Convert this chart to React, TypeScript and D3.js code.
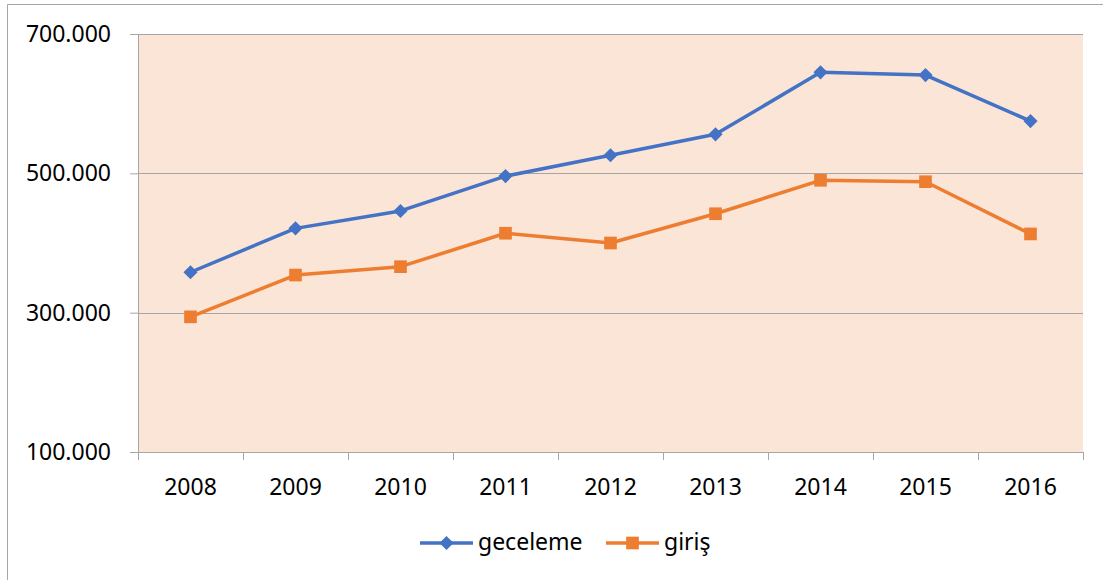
import React, { useEffect, useRef } from 'react';
import * as d3 from 'd3';

const years = ['2008', '2009', '2010', '2011', '2012', '2013', '2014', '2015', '2016'];
const geceleme = [358000, 421000, 446000, 496000, 526000, 556000, 645000, 641000, 575000];
const giris = [294000, 354000, 366000, 414000, 400000, 442000, 490000, 488000, 413000];
const yTicks = [100000, 300000, 500000, 700000];

const W = 1103;
const H = 580;
const FONT = '"Noto Sans", sans-serif';

const App = () => {
  const ref = useRef<SVGSVGElement>(null);

  useEffect(() => {
    const svg = d3.select(ref.current);
    svg.selectAll('*').remove();

    const margin = { left: 138, right: 20, top: 34, bottom: 128 };
    const width = W - margin.left - margin.right;
    const height = H - margin.top - margin.bottom;

    // outer chart border (only top/left visible in the crop)
    svg.append('path')
      .attr('d', `M7.5,${H} L7.5,4.5 L${W},4.5`)
      .attr('fill', 'none')
      .attr('stroke', '#a6a6a6');

    const g = svg.append('g').attr('transform', `translate(${margin.left}, ${margin.top})`);

    const x = d3.scaleBand().domain(years).range([0, width]);
    const y = d3.scaleLinear().domain([100000, 700000]).range([height, 0]);
    const fmt = (v: number) => d3.format(',')(v).replace(/,/g, '.');

    g.append('rect')
      .attr('width', width)
      .attr('height', height)
      .attr('fill', '#fbe5d6');

    // gridlines
    g.selectAll('.grid')
      .data(yTicks.slice(1))
      .enter().append('line')
      .attr('x1', 0).attr('x2', width)
      .attr('y1', d => Math.round(y(d)) + 0.5)
      .attr('y2', d => Math.round(y(d)) + 0.5)
      .attr('stroke', '#a6a6a6');

    // y axis
    const yAxis = g.append('g').call(d3.axisLeft(y).tickValues(yTicks).tickSize(8).tickPadding(6).tickFormat(d => fmt(+d)));
    yAxis.select('.domain').attr('stroke', '#a6a6a6');
    yAxis.selectAll('.tick line').attr('stroke', '#a6a6a6');
    yAxis.selectAll('text')
      .attr('font-family', FONT)
      .attr('font-size', 23)
      .attr('fill', '#000')
      .attr('x', -27);

    // x axis
    const xAxisG = g.append('g').attr('transform', `translate(0, ${height})`);
    xAxisG.append('line').attr('x1', 0).attr('x2', width).attr('y1', 0.5).attr('y2', 0.5).attr('stroke', '#a6a6a6');
    const bounds = years.map(d => x(d) as number).concat([width]);
    xAxisG.selectAll('.xt')
      .data(bounds)
      .enter().append('line')
      .attr('x1', d => Math.round(d) + 0.5).attr('x2', d => Math.round(d) + 0.5)
      .attr('y1', 0).attr('y2', 8)
      .attr('stroke', '#a6a6a6');
    xAxisG.selectAll('.xl')
      .data(years)
      .enter().append('text')
      .attr('x', d => (x(d) as number) + x.bandwidth() / 2)
      .attr('y', 35)
      .attr('dy', '0.35em')
      .attr('text-anchor', 'middle')
      .attr('font-family', FONT)
      .attr('font-size', 23)
      .text(d => d);

    const cx = (i: number) => (x(years[i]) as number) + x.bandwidth() / 2;
    const line = d3.line<number>().x((d, i) => cx(i)).y(d => y(d));

    const series = [
      { name: 'geceleme', data: geceleme, color: '#4472c4', size: 100, rot: 45 },
      { name: 'giriş', data: giris, color: '#ed7d31', size: 160, rot: 0 },
    ];

    series.forEach(s => {
      g.append('path')
        .datum(s.data)
        .attr('d', line)
        .attr('fill', 'none')
        .attr('stroke', s.color)
        .attr('stroke-width', 3.5)
        .attr('stroke-linejoin', 'round');
      g.selectAll(null)
        .data(s.data)
        .enter().append('path')
        .attr('d', d3.symbol().type(d3.symbolSquare).size(s.size))
        .attr('transform', (d, i) => `translate(${cx(i)}, ${y(d)}) rotate(${s.rot})`)
        .attr('fill', s.color);
    });

    // legend
    const legendX = [420, 606];
    const legendY = 543;
    series.forEach((s, i) => {
      const lg = svg.append('g').attr('transform', `translate(${legendX[i]}, ${legendY})`);
      lg.append('line').attr('x1', 0).attr('x2', 53).attr('y1', 0).attr('y2', 0)
        .attr('stroke', s.color).attr('stroke-width', 3.5);
      lg.append('path')
        .attr('d', d3.symbol().type(d3.symbolSquare).size(s.size))
        .attr('transform', `translate(26.5, 0) rotate(${s.rot})`)
        .attr('fill', s.color);
      lg.append('text')
        .attr('x', 58)
        .attr('y', 0)
        .attr('dy', '0.32em')
        .attr('font-family', FONT)
        .attr('font-size', 23)
        .text(s.name);
    });
  }, []);

  return (
    <svg ref={ref} width={W} height={H} style={{ position: 'absolute', left: 0, top: 0, background: '#fff' }} />
  );
};

export default App;
